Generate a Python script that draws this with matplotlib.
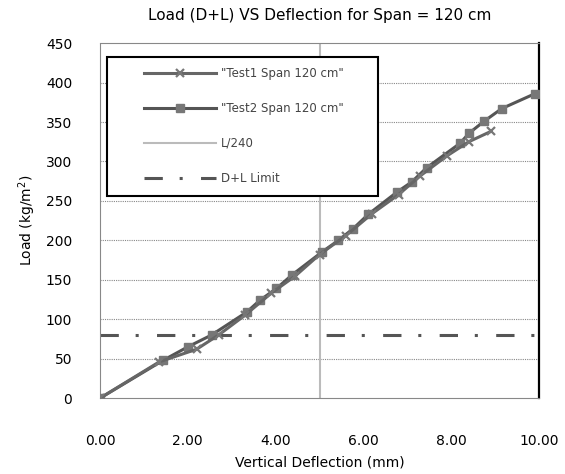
import matplotlib
matplotlib.use("Agg")
import matplotlib.pyplot as plt
from matplotlib.patches import Rectangle

# Test data
test1_defl = [0.0, 1.35, 2.2, 2.7, 3.3, 3.9, 4.45, 5.0, 5.6, 6.2, 6.8, 7.3, 7.9, 8.4, 8.9]
test1_load = [0, 46, 62, 80, 105, 133, 155, 182, 206, 234, 258, 282, 307, 325, 338]

test2_defl = [0.0, 1.44, 2.0, 2.54, 3.34, 3.64, 4.02, 4.37, 5.05, 5.43, 5.77, 6.11,
              6.76, 7.1, 7.44, 8.2, 8.41, 8.75, 9.15, 9.91]
test2_load = [0, 48, 65, 80, 109, 124, 139, 156, 185, 200, 215, 233,
              261, 274, 292, 323, 336, 351, 367, 386]

limit_defl = 5.0        # L/240 for 1200 mm span
dl_limit_load = 80      # D+L limit

x_ticks = [0, 2, 4, 6, 8, 10]
y_ticks = [0, 50, 100, 150, 200, 250, 300, 350, 400, 450]

fig = plt.figure(figsize=(5.65, 4.74), dpi=100)
ax = fig.add_axes([0.177, 0.160, 0.777, 0.749])

# horizontal grid
for y in y_ticks[1:-1]:
    ax.axhline(y, color="#888888", lw=0.8, ls=(0, (1, 1)), zorder=1)

ax.plot(test1_defl, test1_load, color="#666666", lw=2.2, marker="x", ms=5.5, mew=1.6,
        mec="#777777", label='"Test1 Span 120 cm"', zorder=4)
ax.plot(test2_defl, test2_load, color="#555555", lw=2.2, marker="s", ms=5.5,
        mfc="#777777", mec="#777777", label='"Test2 Span 120 cm"', zorder=3)
ax.axvline(limit_defl, color="#bbbbbb", lw=1.5, label="L/240", zorder=2)
ax.axhline(dl_limit_load, color="#555555", lw=2.2, ls=(0, (6, 5.5, 1, 6)),
           label="D+L Limit", zorder=2)

ax.set_xlim(0, 10)
ax.set_ylim(0, 450)
ax.set_xticks(x_ticks)
ax.set_xticklabels([f"{v:.2f}" for v in x_ticks])
ax.set_yticks(y_ticks)
ax.tick_params(length=0, labelsize=10)
ax.tick_params(axis="x", pad=26)
ax.tick_params(axis="y", pad=20)

for side in ["left", "top", "bottom"]:
    ax.spines[side].set_color("#888888")
    ax.spines[side].set_linestyle((0, (1, 1)))
    ax.spines[side].set_linewidth(0.8)
ax.spines["right"].set_color("black")
ax.spines["right"].set_linewidth(1.6)

ax.set_title("Load (D+L) VS Deflection for Span = 120 cm", fontsize=11, pad=17)
ax.set_xlabel("Vertical Deflection (mm)", fontsize=10, labelpad=5)
ax.set_ylabel("Load (kg/m$^2$)", fontsize=10, labelpad=6)

# legend box drawn separately so the padding matches
ax.add_patch(Rectangle((0.016, 0.57), 0.617, 0.392, transform=ax.transAxes,
                       facecolor="white", edgecolor="black", lw=1.5, zorder=5))
leg = ax.legend(loc="upper left", bbox_to_anchor=(0.0866, 0.949), fontsize=8.5,
                handlelength=6.1, labelspacing=1.85, borderpad=0, handletextpad=0.45,
                frameon=False)
leg.set_zorder(6)
for t in leg.get_texts():
    t.set_color("#444444")

fig.savefig("out.png", dpi=100)
